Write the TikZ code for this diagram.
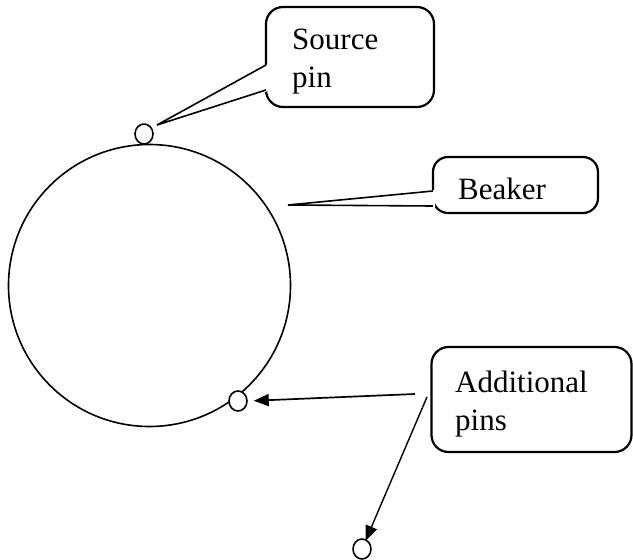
\documentclass[tikz,border=0pt]{standalone}
\usepackage{fontspec}
\setmainfont{Liberation Serif}
\usetikzlibrary{arrows.meta,shapes.geometric,calc}
\begin{document}
\begin{tikzpicture}[x=1pt,y=-1pt,
  pinmark/.style={draw, fill=white, ellipse, line width=1.6pt, minimum width=18pt, minimum height=20pt, inner sep=0pt},
  callbox/.style={draw, line width=2.2pt, rounded corners=17pt, inner sep=0pt},
  calltext/.style={inner sep=0pt, font=\fontsize{31}{38}\selectfont, align=left, anchor=base west},
  tail/.style={line width=1.6pt, line join=miter},
  pointer/.style={line width=1.7pt, -{Triangle[length=15pt,width=12pt]}}
]
\useasboundingbox (0,0) rectangle (633,560);

% beaker outline
\node[draw, circle, minimum size=282pt, line width=1.6pt, inner sep=0pt] (beaker) at (149.5,285.5) {};

% pins
\node[pinmark] (srcpin) at (144,134) {};
\node[pinmark] (sidepin) at (238,401) {};
\node[pinmark] (lowpin) at (362,549) {};

% callout boxes
\node[callbox, minimum width=168pt, minimum height=100pt] (srcbox) at (350,57) {};
\node[callbox, minimum width=165pt, minimum height=56pt, rounded corners=15pt] (beakbox) at (515.5,185) {};
\node[callbox, minimum width=200pt, minimum height=105pt] (addbox) at (531.5,399.5) {};

% callout tails
\coordinate (srctip) at (157,125);
\coordinate (beaktip) at (288,205);
\fill[white] (268,64) -- (srctip) -- (268,91) -- cycle;
\draw[tail] (266,65) -- (srctip) -- (266,90);
\fill[white] (435,190) -- (beaktip) -- (435,207) -- cycle;
\draw[tail] (433,191) -- (beaktip) -- (433,206);

% labels (base anchor sits on the last line)
\node[calltext] (srctext) at (292,87) {Source\\pin};
\node[calltext] (beaktext) at (458,199) {Beaker};
\node[calltext] (addtext) at (455,430) {Additional\\pins};

% arrows to the additional pins
\coordinate (arrA) at (415,394);
\coordinate (arrB) at (427,397);
\draw[pointer, shorten >=6pt] (arrA) -- (sidepin.east);
\draw[pointer, line width=1.4pt, shorten >=9pt] (arrB) -- (lowpin.center);
\end{tikzpicture}
\end{document}
